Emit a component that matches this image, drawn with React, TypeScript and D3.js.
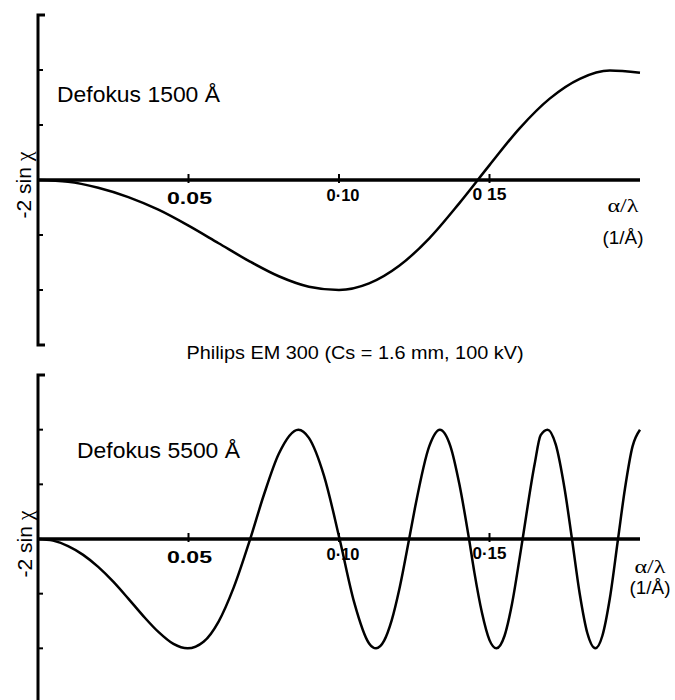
import React from 'react';
import * as d3 from 'd3';

// spatial frequency (1/Å) and -2 sin chi
const freqTop = [0, 0.01, 0.02, 0.03, 0.04, 0.05, 0.06, 0.07, 0.08, 0.09, 0.1,
  0.11, 0.12, 0.13, 0.14, 0.15, 0.16, 0.17, 0.18, 0.19, 0.2];
const ctfTop = [0, -0.03, -0.14, -0.31, -0.54, -0.83, -1.15, -1.47, -1.75, -1.94, -2.0,
  -1.88, -1.56, -1.06, -0.42, 0.27, 0.94, 1.48, 1.84, 1.99, 1.95];

const freqBottom = [0, 0.005, 0.01, 0.015, 0.02, 0.025, 0.03, 0.035, 0.04, 0.045, 0.0497,
  0.055, 0.06, 0.065, 0.0705, 0.075, 0.08, 0.0865, 0.09, 0.095, 0.1002,
  0.105, 0.11, 0.1123, 0.115, 0.1175, 0.12, 0.1233, 0.125, 0.13, 0.1335,
  0.137, 0.14, 0.1432, 0.145, 0.1475, 0.15, 0.1523, 0.155, 0.1575, 0.16,
  0.161, 0.165, 0.167, 0.1693, 0.172, 0.175, 0.1774, 0.18, 0.1825, 0.1852,
  0.1875, 0.19, 0.1927, 0.195, 0.1975, 0.2];
const ctfBottom = [0, -0.03, -0.13, -0.29, -0.51, -0.78, -1.09, -1.41, -1.7, -1.92, -2.0,
  -1.88, -1.51, -0.89, 0, 0.8, 1.56, 2.0, 1.85, 1.16, 0,
  -1.15, -1.91, -2.0, -1.86, -1.49, -0.93, 0, 0.5, 1.7, 2.0,
  1.7, 1.0, 0, -0.62, -1.35, -1.85, -2.0, -1.77, -1.18, -0.35,
  0, 1.37, 1.9, 2.0, 1.73, 0.9, 0, -1.01, -1.72, -2.0,
  -1.77, -1.08, 0, 0.92, 1.69, 2.0];

const xTickValues = [0.05, 0.1, 0.15];
const xTickLabelsTop = ['0.05', '0·10', '0 15'];
const xTickLabelsBottom = ['0.05', '0·10', '0·15'];
const yTickValues = [-2, -1, 1, 2];

const panels = [
  { freq: freqTop, ctf: ctfTop, labels: xTickLabelsTop, top: 15, bottom: 345, defocus: 'Defokus 1500 Å',
    defX: 57, defY: 102, unitX: 623, unitY: 212, unitGap: 32, yLabelX: 31 },
  { freq: freqBottom, ctf: ctfBottom, labels: xTickLabelsBottom, top: 375, bottom: 703, defocus: 'Defokus 5500 Å',
    defX: 77, defY: 458, unitX: 650, unitY: 573, unitGap: 21, yLabelX: 32 },
];

const sans = '"Liberation Sans", Arial, sans-serif';
const serif = '"Liberation Serif", "Times New Roman", serif';

function Panel({ p }) {
  const x = d3.scaleLinear().domain([0, 0.2]).range([38, 640]);
  const y = d3.scaleLinear().domain([-3, 3]).range([p.bottom, p.top]);
  const line = d3.line()
    .x(d => x(d[0]))
    .y(d => y(d[1]))
    .curve(d3.curveMonotoneX);
  const pts = p.freq.map((f, k) => [f, p.ctf[k]]);
  const x0 = x(0);
  const y0 = y(0);
  const tickW = [45, 33, 34];
  const tickDy = [24, 21, 20];
  const tickDx = [1, 4, 0];

  return (
    <g>
      {/* y axis drawn as a bracket */}
      <path d={`M${x0 + 7},${y(3)}H${x0}V${y(-3)}H${x0 + 7}`} fill="none" stroke="#000" strokeWidth={3} />
      {yTickValues.map(v => (
        <line key={v} x1={x0} x2={x0 + 5} y1={y(v)} y2={y(v)} stroke="#000" strokeWidth={2} />
      ))}
      <line x1={x0} x2={x(0.2)} y1={y0} y2={y0} stroke="#000" strokeWidth={3.5} />
      {xTickValues.map((v, k) => (
        <g key={v}>
          <line x1={x(v)} x2={x(v)} y1={y0 - 6} y2={y0 + 3} stroke="#000" strokeWidth={2} />
          <text x={x(v) + tickDx[k]} y={y0 + tickDy[k]} textAnchor="middle" fontFamily={sans}
            fontWeight="bold" fontSize={17} textLength={tickW[k]} lengthAdjust="spacingAndGlyphs">
            {p.labels[k]}
          </text>
        </g>
      ))}
      <path d={line(pts)} fill="none" stroke="#000" strokeWidth={2.5} />
      <text x={p.defX} y={p.defY} fontFamily={sans} fontSize={22} textLength={163} lengthAdjust="spacingAndGlyphs">
        {p.defocus}
      </text>
      <text transform={`translate(${p.yLabelX},${y0 + 5}) rotate(-90)`} textAnchor="middle"
        fontFamily={sans} fontSize={21}>
        -2 sin <tspan fontFamily={serif} fontSize={22}>χ</tspan>
      </text>
      <text x={p.unitX} y={p.unitY} textAnchor="middle" fontFamily={serif} fontSize={19}
        textLength={31} lengthAdjust="spacingAndGlyphs">α/λ</text>
      <text x={p.unitX} y={p.unitY + p.unitGap} textAnchor="middle" fontFamily={sans} fontSize={18}
        textLength={41} lengthAdjust="spacingAndGlyphs">(1/Å)</text>
    </g>
  );
}

export default function App() {
  return (
    <svg width={675} height={700} style={{ position: 'absolute', left: 0, top: 0, background: '#fff' }}>
      <rect width={675} height={700} fill="#fff" />
      {panels.map((p, i) => <Panel key={i} p={p} />)}
      <text x={355} y={359} textAnchor="middle" fontFamily={sans} fontSize={19} textLength={337}
        lengthAdjust="spacingAndGlyphs">
        Philips EM 300 (Cs = 1.6 mm, 100 kV)
      </text>
    </svg>
  );
}
